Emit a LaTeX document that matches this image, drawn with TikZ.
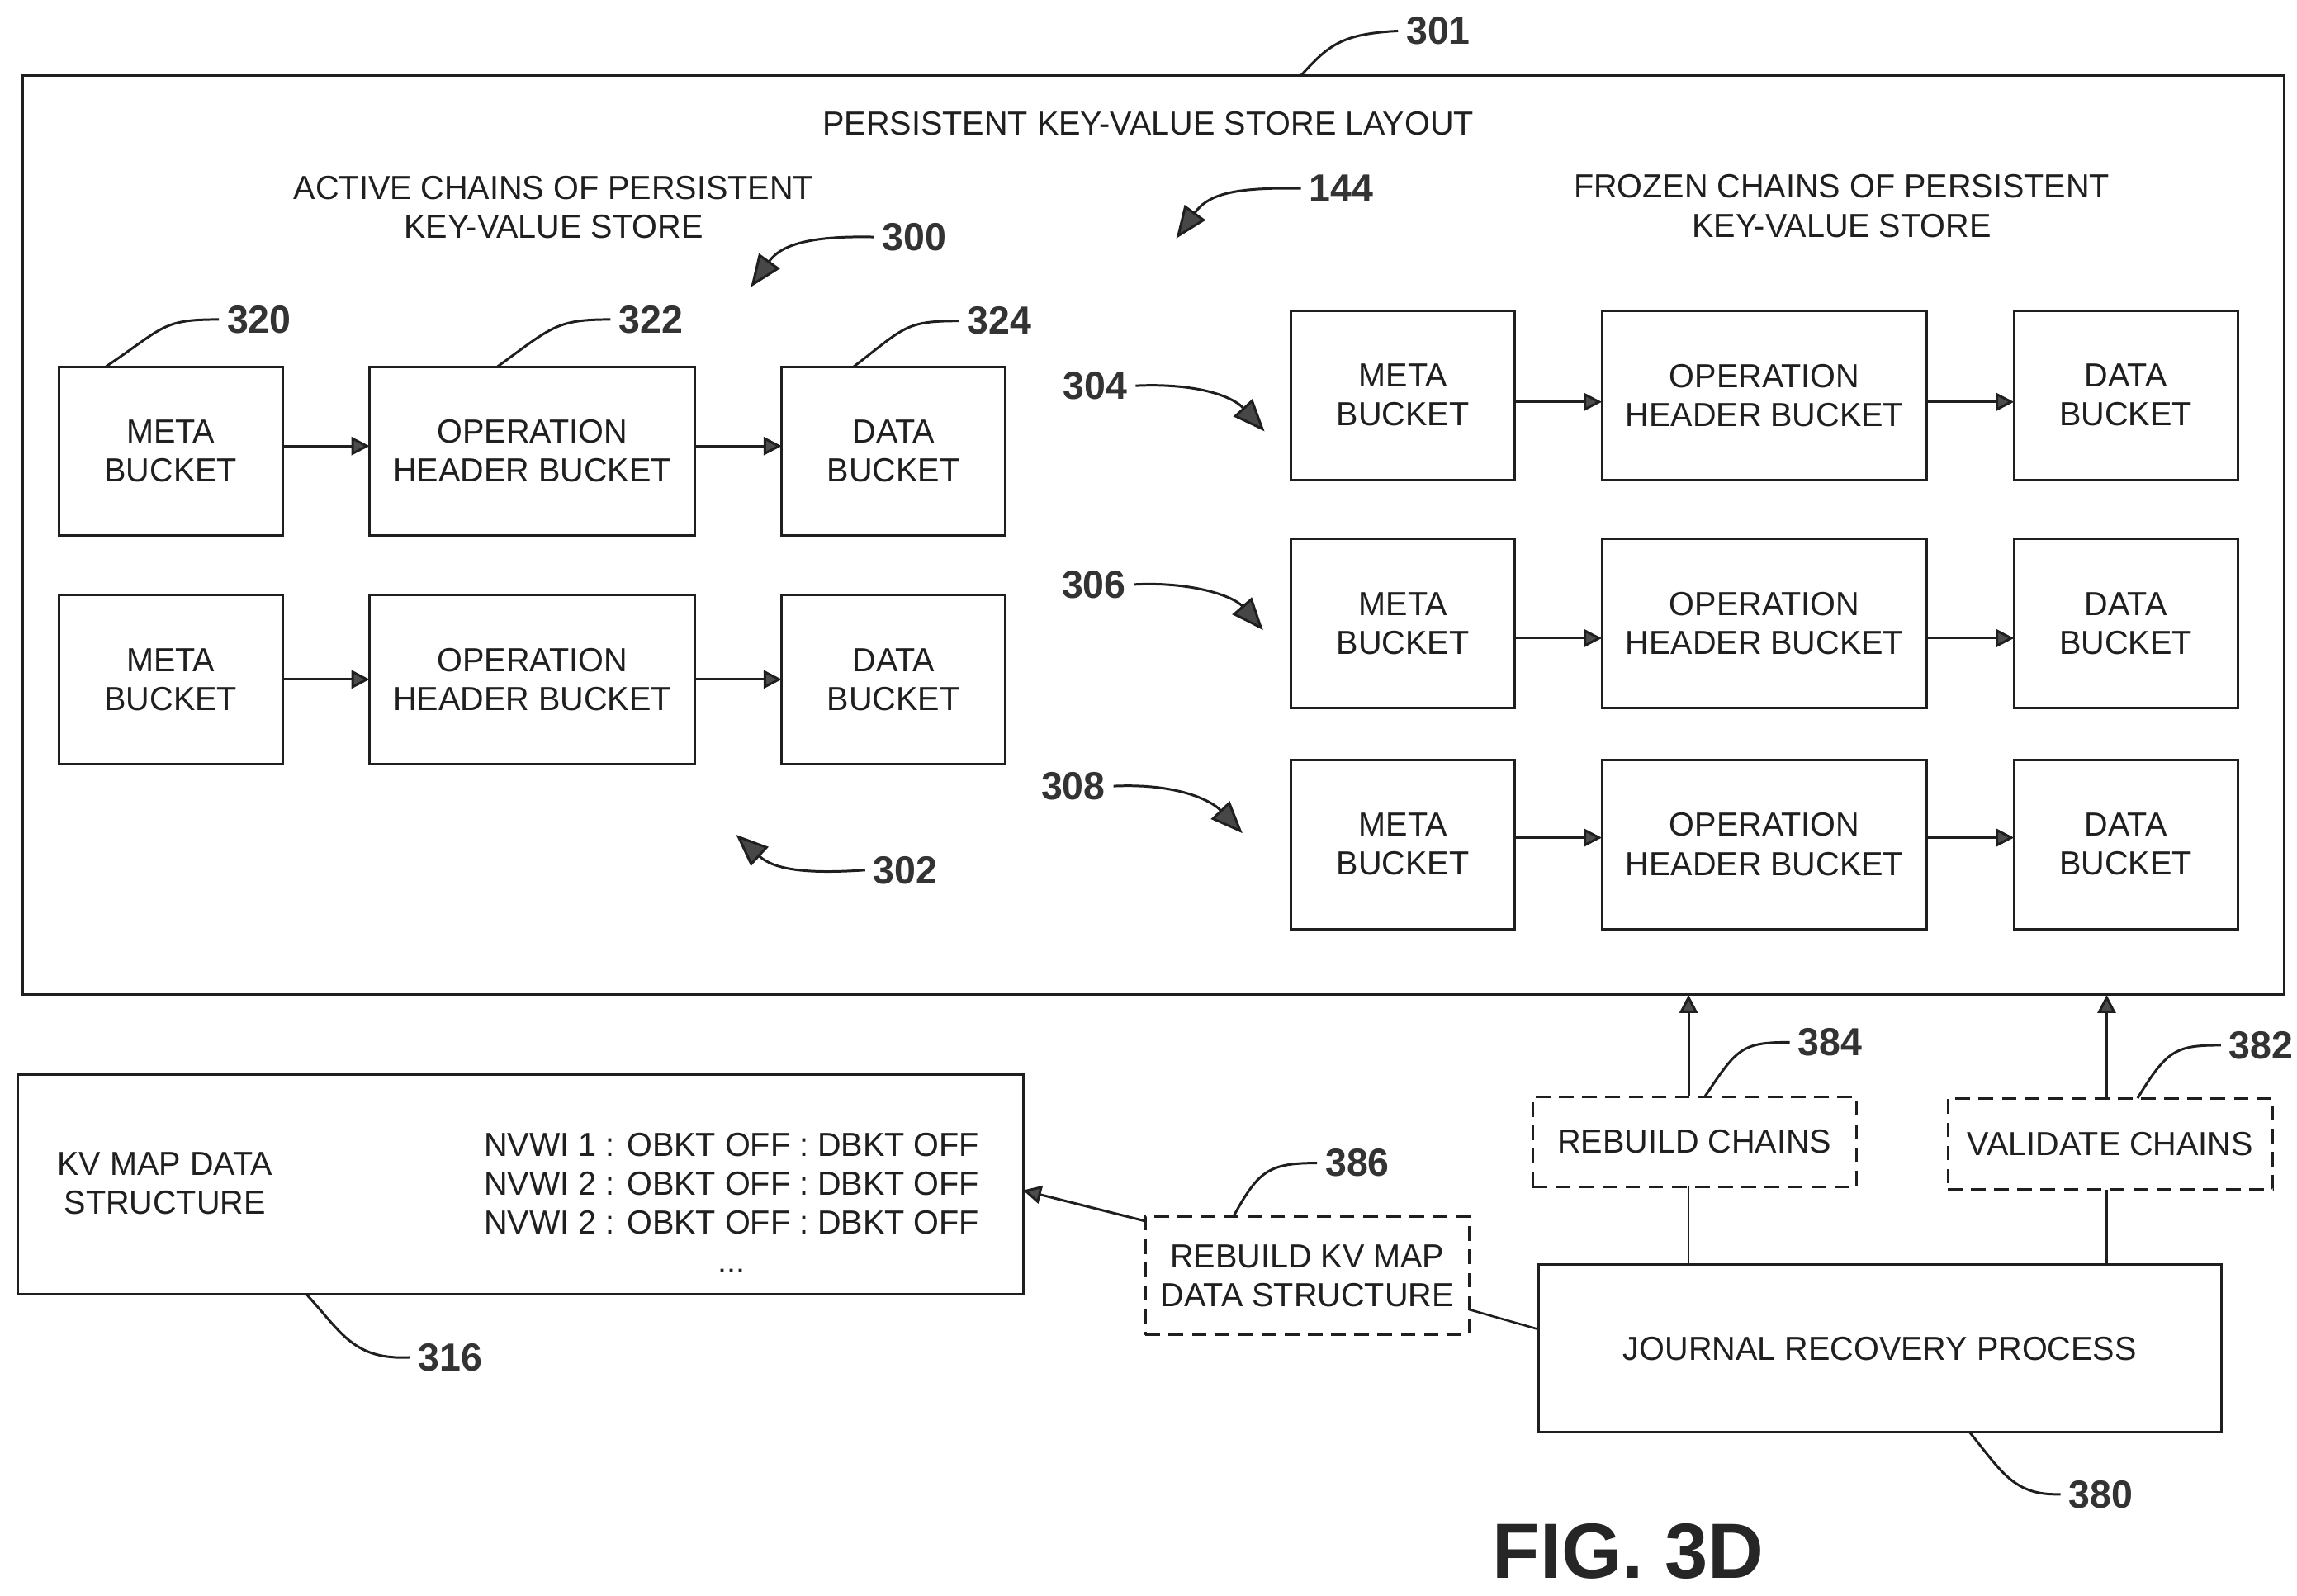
\documentclass[tikz,border=0pt]{standalone}
\usepackage{fontspec}
\usetikzlibrary{arrows.meta,calc}
\setmainfont[FakeStretch=0.98]{Liberation Sans}
\newfontfamily\numfont[FakeStretch=0.98]{Liberation Sans Bold}
\newfontfamily\figfont[FakeStretch=0.99]{Liberation Sans Bold}
\definecolor{ink}{gray}{0.12}
\tikzset{
  x=0.01783cm,y=-0.01783cm,
  every node/.style={inner sep=0pt,outer sep=0pt,text=ink},
  plain/.style={font=\fontsize{11.5}{13.4}\selectfont,align=center},
  bx/.style={draw=ink,line width=0.85pt,minimum height=2.05cm,plain},
  bmeta/.style={bx,minimum width=2.71cm},
  bop/.style={bx,minimum width=3.94cm},
  dashbox/.style={draw=ink,line width=0.85pt,dash pattern=on 5pt off 3pt,plain},
  num/.style={font=\numfont\fontsize{13.5}{14}\selectfont,text=black!80,inner sep=1mm},
  arr/.style={draw=ink,line width=0.85pt,-{Triangle[length=2.2mm,width=2.2mm,fill=black!70]}},
  wire/.style={draw=ink,line width=0.75pt},
  lead/.style={draw=ink,line width=0.85pt},
  bigarr/.style={lead,-{Triangle[length=3.9mm,width=3.1mm,fill=black!72]}},
}
\newcommand{\chainrow}[4]{%
  \node[bmeta] (#1m) at (#2,#3) {META\\BUCKET};
  \node[bop] (#1o) at (#2+245.5,#3) {OPERATION\\HEADER BUCKET};
  \node[bmeta] (#1d) at (#2+491,#3) {DATA\\BUCKET};
  \draw[arr] ($(#1m.east)+(0,#4)$) -- ($(#1o.west)+(0,#4)$);
  \draw[arr] ($(#1o.east)+(0,#4)$) -- ($(#1d.west)+(0,#4)$);
}
\begin{document}
\begin{tikzpicture}
\useasboundingbox (0,0) rectangle (1560.3,1084);
\node[draw=ink,line width=0.85pt,minimum width=27.40cm,minimum height=11.14cm] (main) at (783.5,363.5) {};
\node[plain] (title) at (780,84) {PERSISTENT KEY-VALUE STORE LAYOUT};
\node[plain] (active) at (376,141) {ACTIVE CHAINS OF PERSISTENT\\KEY-VALUE STORE};
\node[plain] (frozen) at (1251,140) {FROZEN CHAINS OF PERSISTENT\\KEY-VALUE STORE};

\chainrow{a}{116}{306.5}{-3.5}
\chainrow{b}{116}{461.5}{0}
\chainrow{c}{953}{268.5}{4.5}
\chainrow{d}{953}{423.5}{10}
\chainrow{e}{953}{573.5}{-4.5}

\node[draw=ink,line width=0.85pt,minimum width=12.18cm,minimum height=2.66cm] (map) at (353.5,804.5) {};
\node[plain] (maplabel) at (112,804) {KV MAP DATA\\STRUCTURE};
\node[plain] (mapitems) at (497,817) {NVWI 1 : OBKT OFF : DBKT OFF\\NVWI 2 : OBKT OFF : DBKT OFF\\NVWI 2 : OBKT OFF : DBKT OFF\\...};
\node[dashbox,minimum width=3.92cm,minimum height=1.44cm] (rkv) at (888,866.5) {REBUILD KV MAP\\DATA STRUCTURE};
\node[dashbox,minimum width=3.92cm,minimum height=1.09cm] (rch) at (1151,775.5) {REBUILD CHAINS};
\node[dashbox,minimum width=3.94cm,minimum height=1.105cm] (vch) at (1433.5,777) {VALIDATE CHAINS};
\node[bx,minimum width=8.27cm,minimum height=2.03cm] (jrp) at (1277,916) {JOURNAL RECOVERY PROCESS};

% connectors
\draw[wire] (jrp.north -| 1147,0) -- (rch.south -| 1147,0);
\draw[arr] (rch.north -| 1147,0) -- (main.south -| 1147,0);
\draw[wire] (jrp.north -| 1431,0) -- (vch.south -| 1431,0);
\draw[arr] (vch.north -| 1431,0) -- (main.south -| 1431,0);
\draw[wire] ($(jrp.west)+(0,-13)$) -- ($(rkv.east)+(0,23)$);
\draw[arr] ($(rkv.west)+(0,-37)$) -- ($(map.east)+(0,4)$);

% reference numerals
\node[num] (n301) at (977,21) {301};
\node[num] (n144) at (911,128) {144};
\node[num] (n300) at (621,161) {300};
\node[num] (n320) at (176,217) {320};
\node[num] (n322) at (442,217) {322};
\node[num] (n324) at (679,218) {324};
\node[num] (n304) at (744,262) {304};
\node[num] (n306) at (743,397) {306};
\node[num] (n308) at (729,534) {308};
\node[num] (n302) at (615,591) {302};
\node[num] (n384) at (1243,708) {384};
\node[num] (n382) at (1536,710) {382};
\node[num] (n386) at (922,790) {386};
\node[num] (n316) at (306,922) {316};
\node[num] (n380) at (1427,1015) {380};

% free ends of the numeral leaders
\coordinate (t144) at (799,162);
\coordinate (t300) at (510,195);
\coordinate (t304) at (859,293);
\coordinate (t306) at (858,428);
\coordinate (t308) at (844,566);
\coordinate (t302) at (500,567);

\draw[lead] (884,51) .. controls (903,30) and (912,23) .. (n301.west);
\draw[bigarr] (n144.west) .. controls (835,127) and (820,133) .. (t144);
\draw[bigarr] (n300.west) .. controls (548,160) and (530,167) .. (t300);
\draw[lead] (72,249) .. controls (112,222) and (110,217) .. (n320.west);
\draw[lead] (338,249) .. controls (375,222) and (378,217) .. (n322.west);
\draw[lead] (580,249) .. controls (615,222) and (615,218) .. (n324.west);
\draw[bigarr] (n304.east) .. controls (815,260) and (838,270) .. (t304);
\draw[bigarr] (n306.east) .. controls (810,395) and (838,405) .. (t306);
\draw[bigarr] (n308.east) .. controls (798,532) and (822,543) .. (t308);
\draw[bigarr] (n302.west) .. controls (545,594) and (525,590) .. (t302);
\draw[lead] (1158,745) .. controls (1180,712) and (1183,708) .. (n384.west);
\draw[lead] (1452,746) .. controls (1472,713) and (1478,710) .. (n382.west);
\draw[lead] (838,826) .. controls (855,795) and (862,790) .. (n386.west);
\draw[lead] (208,879) .. controls (232,905) and (240,924) .. (n316.west);
\draw[lead] (1338,973) .. controls (1360,1000) and (1368,1016) .. (n380.west);

\node[font=\figfont\fontsize{27}{28}\selectfont,text=black!85] (fig) at (1106,1054) {FIG. 3D};
\end{tikzpicture}
\end{document}
